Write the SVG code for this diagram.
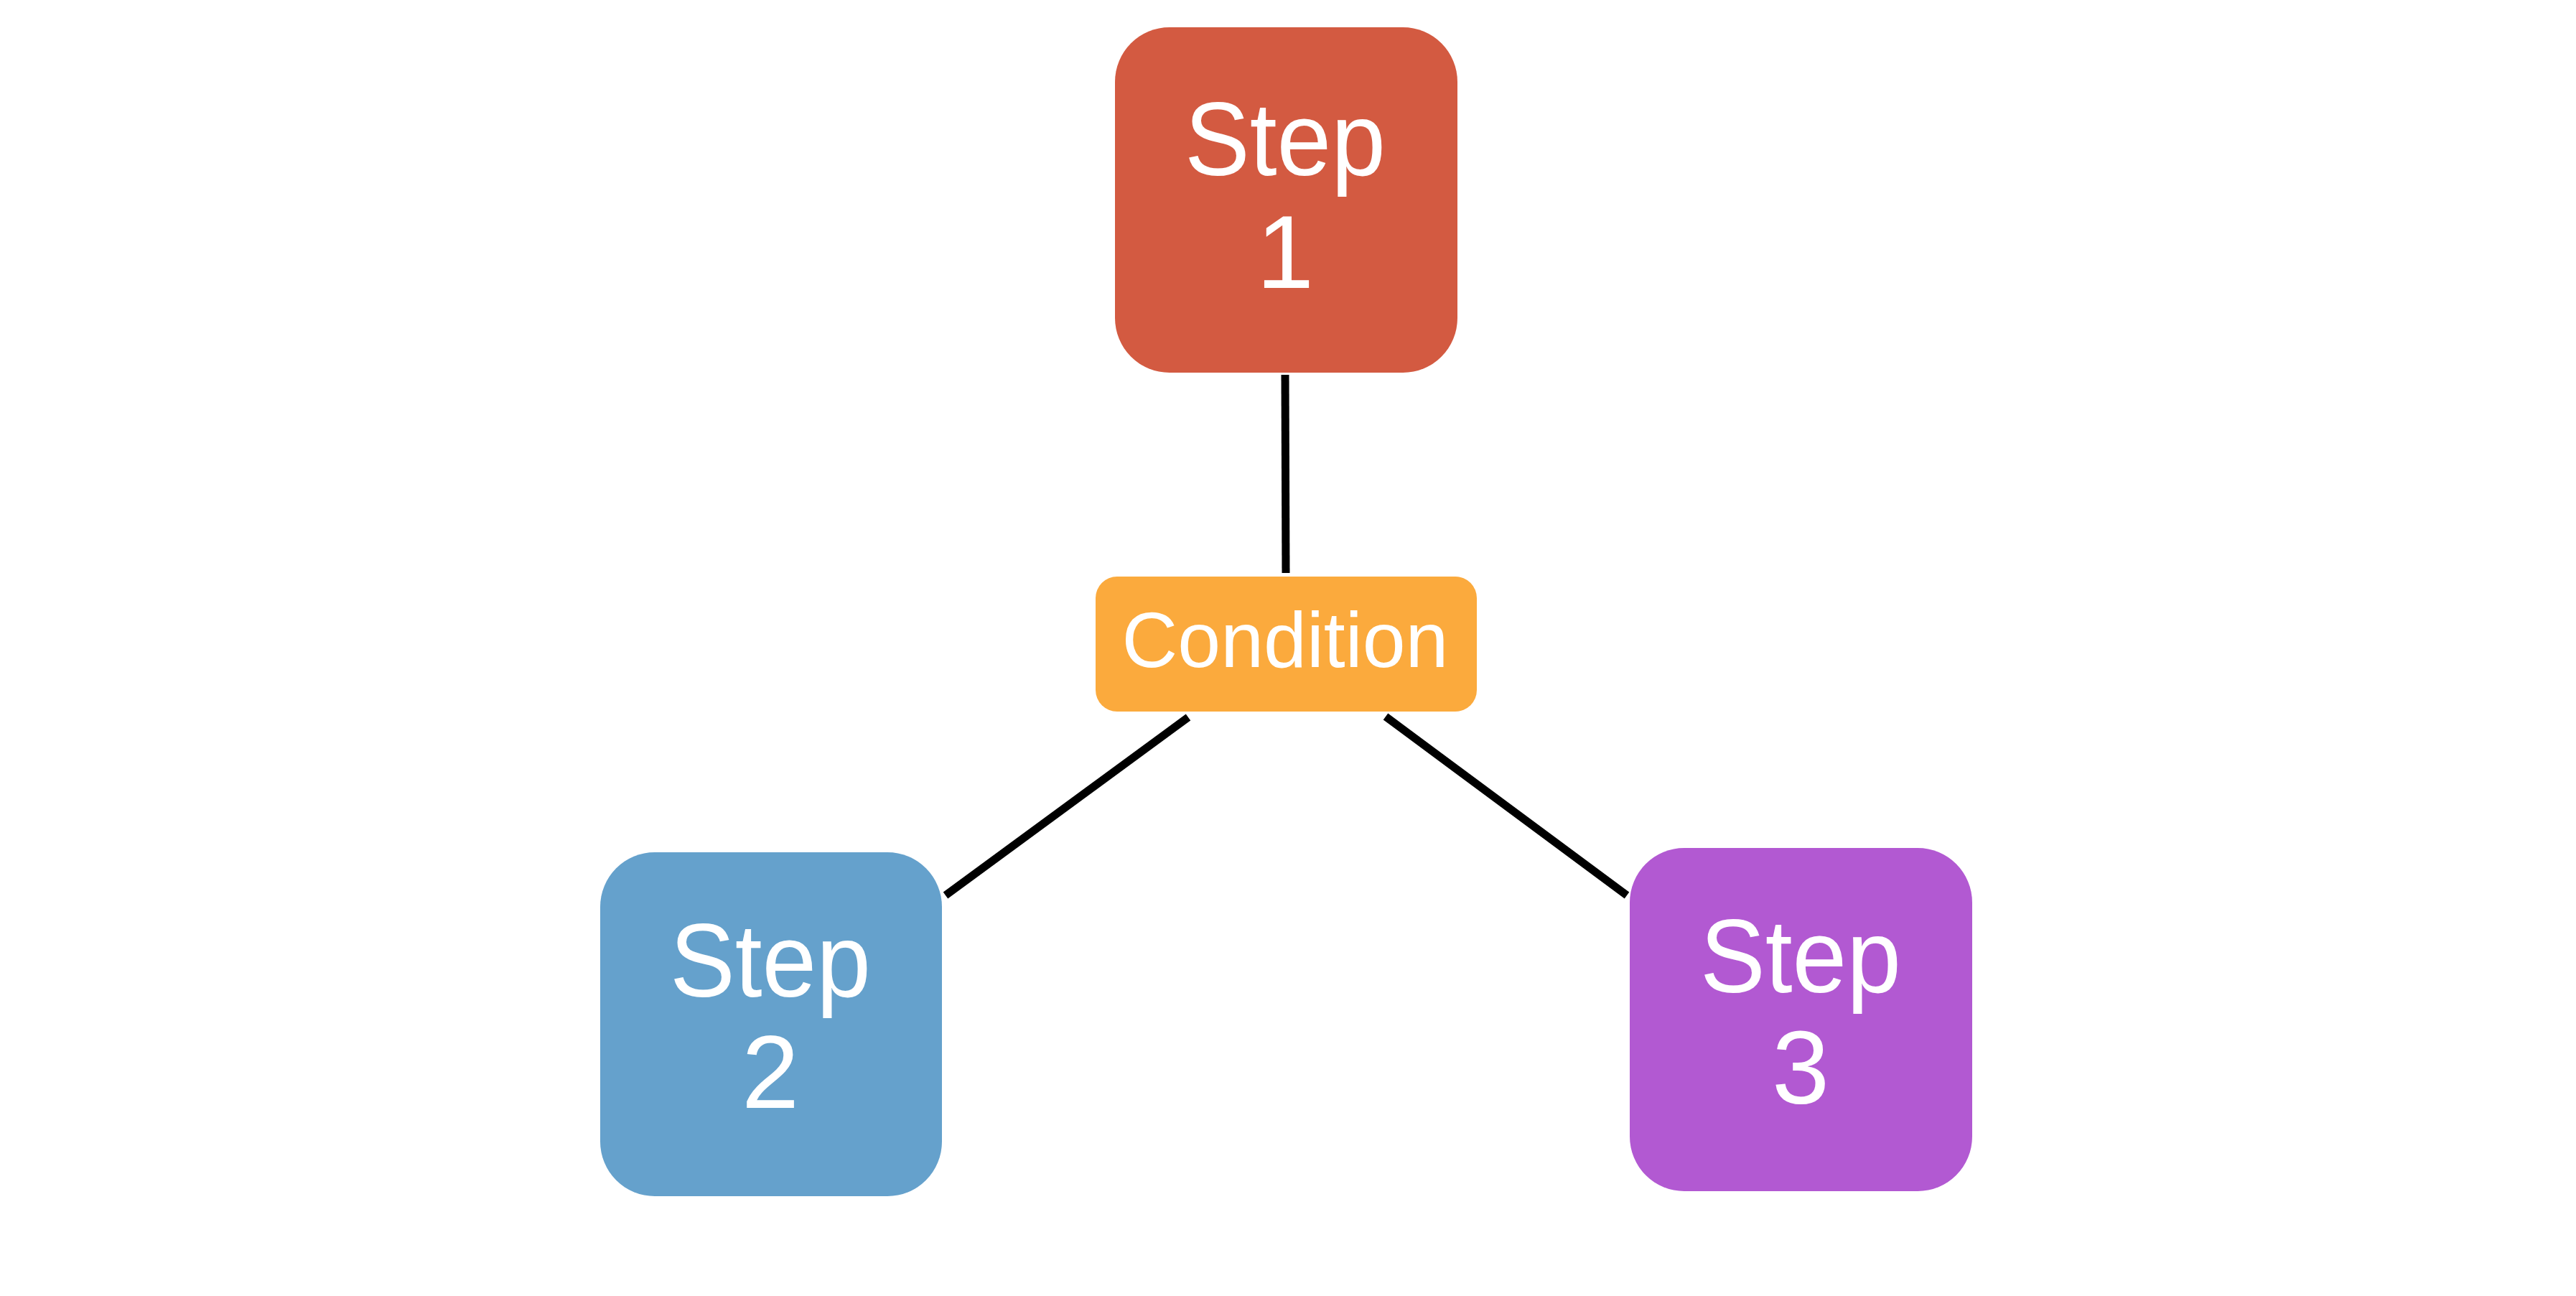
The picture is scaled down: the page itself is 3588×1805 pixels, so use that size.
<svg xmlns="http://www.w3.org/2000/svg" width="3588" height="1805" viewBox="0 0 3588 1805">
<style>
.box{stroke:none}
.lbl{font-family:"Liberation Sans",Arial,sans-serif;fill:#ffffff;text-anchor:middle}
.step{font-size:144px}
.cond{font-size:110px}
.conn{stroke:#000000;stroke-width:11;fill:none}
</style>
<rect width="3588" height="1805" fill="#ffffff"/>
<g id="connectors">
<line class="conn" x1="1790" y1="522" x2="1791" y2="798"/>
<line class="conn" x1="1655" y1="999" x2="1317" y2="1247"/>
<line class="conn" x1="1930" y1="998" x2="2266" y2="1247"/>
</g>
<g id="step1">
<rect class="box" x="1553" y="38" width="477" height="481" rx="76" fill="#D35A41"/>
<text class="lbl step" x="1790" y="244" textLength="280" lengthAdjust="spacingAndGlyphs">Step</text>
<text class="lbl step" x="1790" y="401">1</text>
</g>
<g id="condition">
<rect class="box" x="1526" y="803" width="531" height="188" rx="30" fill="#FBAA3D"/>
<text class="lbl cond" x="1790" y="929" textLength="455" lengthAdjust="spacingAndGlyphs">Condition</text>
</g>
<g id="step2">
<rect class="box" x="836" y="1187" width="476" height="479" rx="76" fill="#65A1CC"/>
<text class="lbl step" x="1073" y="1388" textLength="280" lengthAdjust="spacingAndGlyphs">Step</text>
<text class="lbl step" x="1073" y="1543">2</text>
</g>
<g id="step3">
<rect class="box" x="2270" y="1181" width="477" height="478" rx="76" fill="#B259D2"/>
<text class="lbl step" x="2508" y="1382" textLength="280" lengthAdjust="spacingAndGlyphs">Step</text>
<text class="lbl step" x="2508" y="1537">3</text>
</g>
</svg>
